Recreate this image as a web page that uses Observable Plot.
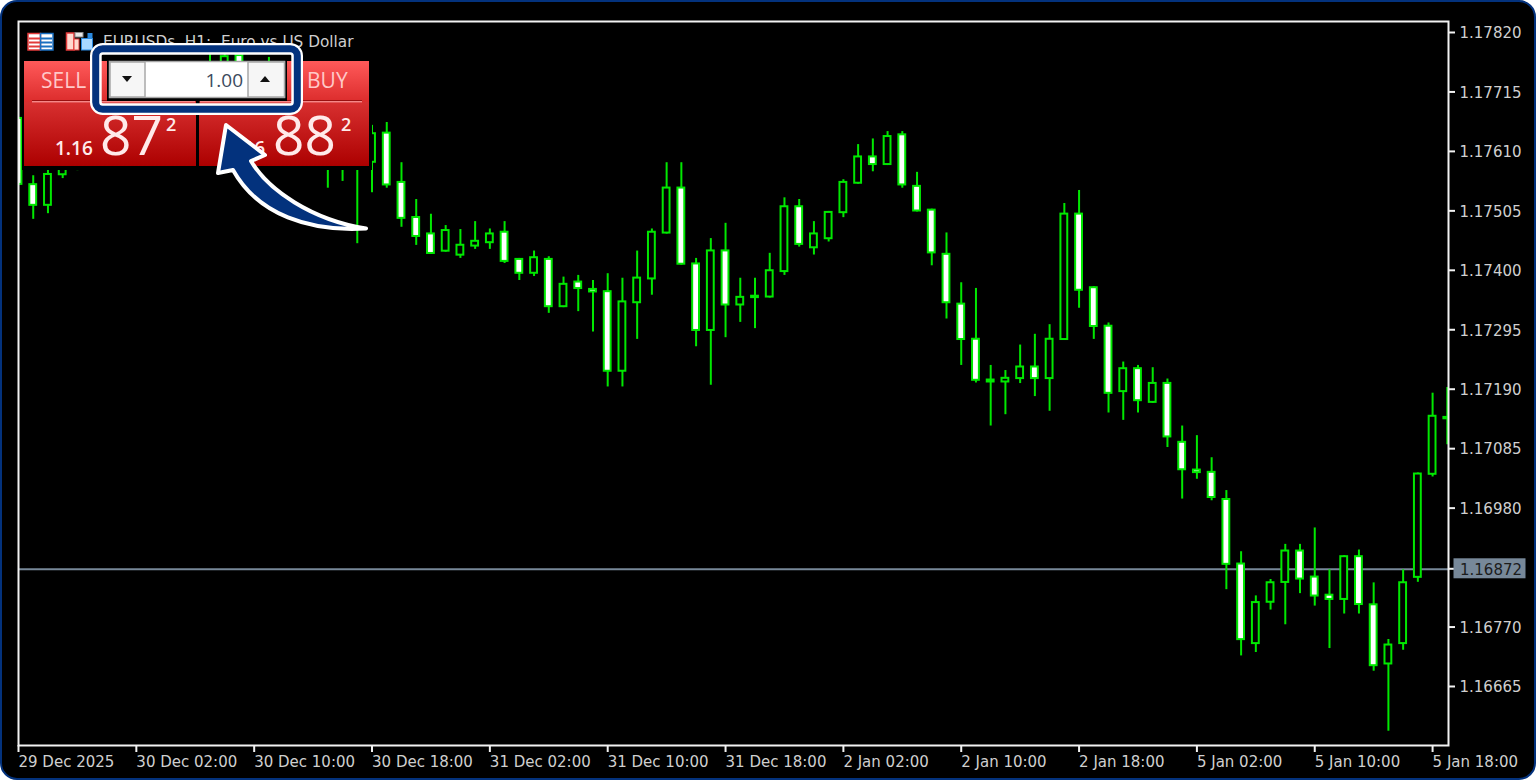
<!DOCTYPE html>
<html>
<head>
<meta charset="utf-8">
<script src="https://cdn.jsdelivr.net/npm/d3@7"></script>
<script src="https://cdn.jsdelivr.net/npm/@observablehq/plot@0.6"></script>
<style>
html,body{margin:0;padding:0;background:#fff;overflow:hidden}
#stage{position:absolute;left:0;top:0;width:1536px;height:780px;box-sizing:border-box;border:2px solid #03327d;border-radius:17px;background:#000;}
#chart{position:absolute;left:0;top:0;width:1536px;height:780px}
#overlay{position:absolute;left:0;top:0}
#chart svg{position:absolute;left:0;top:0;background:transparent;max-width:none;}
</style>
</head>
<body>
<div id="stage"></div>
<div id="chart"></div>
<svg id="overlay" width="1536" height="780" xmlns="http://www.w3.org/2000/svg"></svg>
<script>
const highs = [1.17670,1.17567,1.17585,1.17612,1.17638,1.17656,1.17682,1.17691,1.17709,1.17718,
1.17735,1.17744,1.17753,1.17781,1.17783,1.17783,1.17764,1.17776,1.17744,1.17718,
1.17700,1.17691,1.17673,1.17665,1.17656,1.17661,1.17590,1.17525,1.17499,1.17479,
1.17472,1.17486,1.17473,1.17486,1.17421,1.17434,1.17424,1.17388,1.17391,1.17382,
1.17394,1.17386,1.17434,1.17473,1.17590,1.17590,1.17421,1.17456,1.17483,1.17386,
1.17386,1.17430,1.17528,1.17525,1.17486,1.17504,1.17560,1.17622,1.17632,1.17645,
1.17645,1.17573,1.17508,1.17466,1.17378,1.17368,1.17232,1.17223,1.17268,1.17287,
1.17304,1.17518,1.17541,1.17371,1.17307,1.17238,1.17232,1.17228,1.17208,1.17125,
1.17108,1.17069,1.17011,1.16903,1.16825,1.16854,1.16916,1.16916,1.16945,1.16871,
1.16896,1.16906,1.16848,1.16748,1.16871,1.17042,1.17183,1.17193];
const lows = [1.17550,1.17490,1.17500,1.17562,1.17576,1.17597,1.17620,1.17629,1.17647,1.17656,
1.17673,1.17682,1.17700,1.17709,1.17718,1.17691,1.17686,1.17673,1.17647,1.17638,
1.17620,1.17545,1.17557,1.17447,1.17537,1.17545,1.17476,1.17444,1.17428,1.17432,
1.17421,1.17437,1.17437,1.17412,1.17382,1.17389,1.17324,1.17334,1.17327,1.17291,
1.17194,1.17194,1.17278,1.17356,1.17464,1.17409,1.17265,1.17197,1.17281,1.17308,
1.17297,1.17351,1.17391,1.17441,1.17427,1.17450,1.17493,1.17552,1.17574,1.17585,
1.17545,1.17503,1.17408,1.17314,1.17232,1.17201,1.17125,1.17145,1.17200,1.17177,
1.17151,1.17276,1.17333,1.17278,1.17148,1.17135,1.17148,1.17165,1.17087,1.16996,
1.17031,1.16993,1.16836,1.16719,1.16725,1.16800,1.16774,1.16829,1.16807,1.16732,
1.16793,1.16793,1.16692,1.16586,1.16729,1.16849,1.17035,1.17092];
const bodyTops = [1.17670,1.17553,1.17571,1.17601,1.17620,1.17647,1.17668,1.17673,1.17700,1.17703,
1.17718,1.17726,1.17739,1.17753,1.17779,1.17781,1.17753,1.17735,1.17726,1.17700,
1.17686,1.17673,1.17656,1.17647,1.17643,1.17644,1.17557,1.17495,1.17466,1.17472,
1.17446,1.17453,1.17466,1.17469,1.17421,1.17424,1.17421,1.17377,1.17381,1.17368,
1.17364,1.17346,1.17388,1.17469,1.17547,1.17547,1.17413,1.17436,1.17436,1.17354,
1.17356,1.17401,1.17514,1.17514,1.17466,1.17504,1.17557,1.17602,1.17602,1.17638,
1.17641,1.17550,1.17508,1.17430,1.17342,1.17280,1.17208,1.17211,1.17231,1.17231,
1.17280,1.17501,1.17501,1.17371,1.17303,1.17228,1.17228,1.17202,1.17202,1.17098,
1.17049,1.17045,1.16997,1.16883,1.16815,1.16850,1.16906,1.16906,1.16860,1.16828,
1.16896,1.16896,1.16811,1.16740,1.16850,1.17042,1.17144,1.17142];
const bodyBottoms = [1.17550,1.17513,1.17513,1.17567,1.17594,1.17615,1.17638,1.17650,1.17665,1.17682,
1.17691,1.17700,1.17714,1.17726,1.17735,1.17709,1.17700,1.17691,1.17665,1.17656,
1.17647,1.17612,1.17612,1.17585,1.17589,1.17549,1.17490,1.17458,1.17428,1.17432,
1.17425,1.17441,1.17447,1.17414,1.17393,1.17393,1.17334,1.17334,1.17366,1.17360,
1.17220,1.17220,1.17341,1.17383,1.17464,1.17409,1.17292,1.17292,1.17337,1.17337,
1.17350,1.17351,1.17396,1.17444,1.17438,1.17454,1.17500,1.17552,1.17585,1.17585,
1.17549,1.17503,1.17429,1.17341,1.17276,1.17204,1.17201,1.17201,1.17207,1.17207,
1.17207,1.17276,1.17363,1.17299,1.17181,1.17184,1.17168,1.17165,1.17104,1.17046,
1.17041,1.16997,1.16879,1.16746,1.16739,1.16812,1.16847,1.16853,1.16823,1.16817,
1.16817,1.16808,1.16700,1.16703,1.16739,1.16856,1.17038,1.17136];
const filledCandles = [0,1,4,7,9,12,15,16,18,20,22,25,26,27,28,33,34,36,38,39,40,45,46,48,50,53,58,60,61,62,63,64,65,66,69,72,73,74,76,78,79,80,81,82,83,87,88,89,91,92,97];
const priceTicks = [1.17820,1.17715,1.17610,1.17505,1.17400,1.17295,1.17190,1.17085,1.16980,1.16770,1.16665];
const currentPrice = 1.16872;
const timeLabels = ["29 Dec 2025","30 Dec 02:00","30 Dec 10:00","30 Dec 18:00","31 Dec 02:00","31 Dec 10:00","31 Dec 18:00","2 Jan 02:00","2 Jan 10:00","2 Jan 18:00","5 Jan 02:00","5 Jan 10:00","5 Jan 18:00"];
const barsPerLabel = 8;

const candles = highs.map((high,i)=>({i,high,low:lows[i],top:bodyTops[i],bottom:bodyBottoms[i],filled:filledCandles.includes(i)}));
const GREEN = "#00e800";
const LABEL = "#cfcfcf";
const FONT = "DejaVu Sans";

const plot = Plot.plot({
  width:1536,height:780,
  marginLeft:18,marginRight:88,marginTop:21,marginBottom:35,
  style:{background:"transparent",fontFamily:FONT,fontSize:"15px"},
  x:{type:"linear",domain:[0,97.08]},
  y:{type:"linear",domain:[1.165608,1.178394]},
  marks:[
    Plot.ruleY([currentPrice],{stroke:"#778899",strokeWidth:2}),
    Plot.ruleX(candles,{x:"i",y1:"low",y2:"high",stroke:GREEN,strokeWidth:2,clip:"frame"}),
    Plot.rect(candles,{x1:d=>d.i-0.3,x2:d=>d.i+0.3,y1:"bottom",y2:"top",inset:1,
      fill:d=>d.filled?"#ffffff":"#000000",stroke:GREEN,strokeWidth:2,clip:"frame"}),
    Plot.frame({stroke:"#f2f2f2",strokeWidth:2}),
    Plot.axisY(priceTicks,{anchor:"right",label:null,tickSize:6,stroke:"#f2f2f2",strokeWidth:2,tickFormat:()=>""}),
    Plot.axisY(priceTicks,{anchor:"right",label:null,tickSize:0,tickPadding:11,dy:1,fill:LABEL,
      tickFormat:d=>d.toFixed(5),fontSize:15,fontFamily:FONT}),
    Plot.axisX(timeLabels.map((_,k)=>k*barsPerLabel),{anchor:"bottom",label:null,tickSize:7,tickPadding:4,stroke:"#f2f2f2",strokeWidth:2,fill:LABEL,
      textAnchor:"start",dx:0,tickFormat:v=>timeLabels[v/barsPerLabel],fontSize:15,fontFamily:FONT}),
    // current price tag, placed by the y scale
    (index,{y},channels,{width,marginRight})=>{
      const py=y(currentPrice), fx=width-marginRight;
      const g=d3.create("svg:g");
      g.append("line").attr("x1",fx).attr("x2",fx+6).attr("y1",py).attr("y2",py).attr("stroke","#f2f2f2").attr("stroke-width",2);
      g.append("rect").attr("x",fx+5.5).attr("y",py-10.5).attr("width",72).attr("height",20).attr("fill","#778899");
      g.append("text").attr("x",fx+12).attr("y",py+0.5).attr("dy","0.35em").attr("text-anchor","start").attr("fill","#1c1c1c").attr("font-size",15).attr("font-family",FONT).text(currentPrice.toFixed(5));
      return g.node();
    }
  ]
});
document.getElementById("chart").appendChild(plot);

const UIFONT = "Open Sans";
document.getElementById("overlay").innerHTML = `
<defs>
<linearGradient id="pt" x1="0" y1="0" x2="0" y2="1"><stop offset="0" stop-color="#ff5a5a"/><stop offset="1" stop-color="#dc2c2c"/></linearGradient>
<linearGradient id="pb" x1="0" y1="0" x2="0" y2="1"><stop offset="0" stop-color="#d83030"/><stop offset="1" stop-color="#ac0000"/></linearGradient>
</defs>
<rect x="22" y="62" width="350" height="108" fill="#000"/>
<text x="103" y="47" fill="${LABEL}" font-family="${FONT}" font-size="15.3">EURUSDs, H1:\u00a0\u00a0Euro vs US Dollar</text>
<!-- terminal icons -->
<g>
<rect x="28" y="33.5" width="25" height="16.5" fill="#fff"/>
<rect x="28" y="33.5" width="12.5" height="16.5" fill="none" stroke="#e23a3a" stroke-width="1.5"/>
<rect x="40.5" y="33.5" width="12.5" height="16.5" fill="none" stroke="#1a6fc0" stroke-width="1.5"/>
<rect x="29" y="37.5" width="11" height="2" fill="#e23a3a"/><rect x="29" y="41.5" width="11" height="2" fill="#e23a3a"/><rect x="29" y="45.5" width="11" height="2" fill="#e23a3a"/>
<rect x="41" y="37.5" width="11" height="2" fill="#1a6fc0"/><rect x="41" y="41.5" width="11" height="2" fill="#1a6fc0"/><rect x="41" y="45.5" width="11" height="2" fill="#1a6fc0"/>
<rect x="66.5" y="33" width="7.5" height="17" fill="#ffd8d0" stroke="#e23a3a" stroke-width="1.5"/>
<rect x="74" y="39" width="5" height="11" fill="#ffd8d0" stroke="#e23a3a" stroke-width="1"/>
<rect x="75" y="32.5" width="8" height="4.5" fill="#e8e8e8" stroke="#8a8a8a" stroke-width="1"/>
<rect x="81.5" y="38.5" width="11" height="11.5" fill="#a8d8ff" stroke="#2a8ae0" stroke-width="1"/>
<rect x="87.5" y="33" width="5" height="5.5" fill="#2a8ae0"/>
</g>
<!-- sell / buy panels -->
<rect x="24" y="61" width="172" height="41" fill="url(#pt)"/>
<rect x="24" y="102" width="172" height="64" fill="url(#pb)"/>
<rect x="199" y="61" width="170" height="41" fill="url(#pt)"/>
<rect x="199" y="102" width="170" height="64" fill="url(#pb)"/>
<line x1="32" x2="195" y1="100.5" y2="100.5" stroke="#9a1010" stroke-width="1"/>
<line x1="32" x2="195" y1="101.8" y2="101.8" stroke="#ffb0b0" stroke-width="1"/>
<line x1="200" x2="362" y1="100.5" y2="100.5" stroke="#9a1010" stroke-width="1"/>
<line x1="200" x2="362" y1="101.8" y2="101.8" stroke="#ffb0b0" stroke-width="1"/>
<g font-family="${UIFONT}" fill="#ffeaea">
<text x="41" y="88" font-size="21" fill="#ffc8c8">SELL</text>
<text x="307" y="88" font-size="21" fill="#ffc8c8">BUY</text>
<text x="55" y="155" font-size="19" font-weight="600">1.16</text>
<text x="100" y="155" font-size="55" font-weight="400">87</text>
<text x="166" y="131" font-size="18" font-weight="600">2</text>
<text x="265" y="155" font-size="19" font-weight="600" text-anchor="end">1.16</text>
<text x="273" y="155" font-size="55" font-weight="400">88</text>
<text x="341" y="131" font-size="18" font-weight="600">2</text>
</g>
<!-- volume spinner -->
<rect x="107" y="61" width="180" height="40" fill="#000"/>
<rect x="197" y="101" width="2.5" height="4" fill="#000"/>
<rect x="109.5" y="61.5" width="175" height="36" fill="#fff" stroke="#a8a8a8" stroke-width="1.5"/>
<rect x="110" y="62" width="35" height="35" fill="#f6f6f6" stroke="#a8a8a8" stroke-width="1.5"/>
<rect x="248" y="62" width="36.5" height="35" fill="#f6f6f6" stroke="#a8a8a8" stroke-width="1.5"/>
<path d="M122,76 h10 l-5,6 z" fill="#111"/>
<path d="M260,82 h10 l-5,-6 z" fill="#111"/>
<text x="243" y="86.5" text-anchor="end" font-family="${UIFONT}" font-size="19" fill="#3c4a5e">1.00</text>
<!-- callout -->
<rect x="95.85" y="48.85" width="201.3" height="60.3" rx="7" fill="none" stroke="#fff" stroke-width="11.7"/>
<rect x="95.7" y="48.7" width="201.6" height="60.6" rx="7" fill="none" stroke="#03327d" stroke-width="7"/>
<path d="M226,125 L265,155 L251,161 C268,190 312,220 366,228.5 C310,232 258,215 233,170 L218,173 Z" fill="#03327d" stroke="#fff" stroke-width="4" stroke-linejoin="round"/>
`;
</script>
</body>
</html>
